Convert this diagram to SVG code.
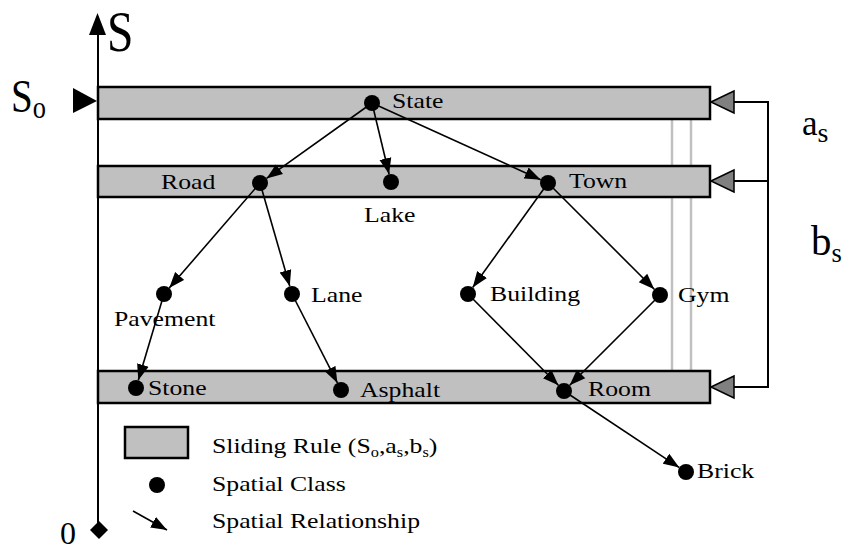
<svg xmlns="http://www.w3.org/2000/svg" width="845" height="552" viewBox="0 0 845 552">
  <style>
    .bar { fill: #c0c0c0; stroke: #000; stroke-width: 2.5; }
    .guide { stroke: #c0c0c0; stroke-width: 2.5; fill: none; }
    .dot { fill: #000; }
    .lbl { font-family: "Liberation Serif", "Times New Roman", serif; font-size: 22px; fill: #000; }
    .big { font-family: "Liberation Serif", "Times New Roman", serif; fill: #000; }
    .edge { stroke: #000; stroke-width: 1.6; fill: none; marker-end: url(#arr); }
    .bracket { stroke: #000; stroke-width: 2; fill: none; }
    .ptr { fill: #808080; stroke: #000; stroke-width: 1.5; }
  </style>
  <defs>
    <marker id="arr" markerUnits="userSpaceOnUse" markerWidth="17" markerHeight="13" refX="16" refY="6.5" orient="auto">
      <path d="M0,0.5 L16,6.5 L0,12.5 z" fill="#000"/>
    </marker>
  </defs>
  <rect width="845" height="552" fill="#fff"/>

  <!-- guide lines behind rules -->
  <g id="guides">
    <line class="guide" x1="672" y1="119" x2="672" y2="371"/>
    <line class="guide" x1="691" y1="119" x2="691" y2="371"/>
  </g>

  <!-- sliding rules -->
  <g id="rules">
    <rect id="rule1" class="bar" x="98" y="87" width="612" height="32"/>
    <rect id="rule2" class="bar" x="98" y="166" width="612" height="31"/>
    <rect id="rule3" class="bar" x="98" y="371" width="612" height="32"/>
  </g>

  <!-- axis -->
  <g id="axis">
    <line x1="98" y1="30" x2="98" y2="530" stroke="#000" stroke-width="2"/>
    <polygon points="97.5,13 106,35 89,35" fill="#000"/>
    <polygon points="99,521 108,530 99,539 90,530" fill="#000"/>
    <polygon points="73,88 97,101 73,113" fill="#000"/>
    <text class="big" font-size="58" transform="translate(107,51) scale(0.82,1)">S</text>
    <text class="big" font-size="46" transform="translate(11,112) scale(0.85,1)">S<tspan font-size="31" dy="6">o</tspan></text>
    <text class="big" font-size="32" x="60" y="544">0</text>
  </g>

  <!-- right bracket -->
  <g id="bracket">
    <polyline class="bracket" points="734,102 768,102 768,387 734,387"/>
    <line class="bracket" x1="734" y1="181" x2="768" y2="181"/>
    <polygon class="ptr" points="711,102 734,91 734,113"/>
    <polygon class="ptr" points="711,181 734,170 734,192"/>
    <polygon class="ptr" points="711,387 734,376 734,398"/>
    <text class="big" font-size="35" x="802" y="135">a<tspan font-size="28" dy="7">s</tspan></text>
    <text class="big" font-size="43" transform="translate(811,255) scale(0.95,1)">b<tspan font-size="28" dy="7">s</tspan></text>
  </g>

  <!-- connectors -->
  <g id="connectors">
    <line class="edge" x1="372" y1="103" x2="266.5" y2="178.4"/>
    <line class="edge" x1="372" y1="103" x2="389.1" y2="174.2"/>
    <line class="edge" x1="372" y1="103" x2="540.7" y2="179.7"/>
    <line class="edge" x1="260" y1="183" x2="169.2" y2="288"/>
    <line class="edge" x1="260" y1="183" x2="289.8" y2="286.3"/>
    <line class="edge" x1="548" y1="183" x2="472.7" y2="287.5"/>
    <line class="edge" x1="548" y1="183" x2="654.3" y2="289.3"/>
    <line class="edge" x1="164" y1="294" x2="138.3" y2="380.3"/>
    <line class="edge" x1="292" y1="294" x2="337.4" y2="382.9"/>
    <line class="edge" x1="468" y1="294" x2="558.4" y2="385.3"/>
    <line class="edge" x1="660" y1="295" x2="569.7" y2="385.3"/>
    <line class="edge" x1="564" y1="391" x2="679.3" y2="467.6"/>
  </g>

  <!-- nodes -->
  <g id="state"><circle class="dot" cx="372" cy="103" r="8"/><text class="lbl" transform="translate(392,108) scale(1.17,1)">State</text></g>
  <g id="road"><circle class="dot" cx="260" cy="183" r="8"/><text class="lbl" transform="translate(161,189) scale(1.17,1)">Road</text></g>
  <g id="lake"><circle class="dot" cx="391" cy="182" r="8"/><text class="lbl" transform="translate(364,222) scale(1.17,1)">Lake</text></g>
  <g id="town"><circle class="dot" cx="548" cy="183" r="8"/><text class="lbl" transform="translate(569,188) scale(1.17,1)">Town</text></g>
  <g id="pavement"><circle class="dot" cx="164" cy="294" r="8"/><text class="lbl" transform="translate(114,326) scale(1.17,1)">Pavement</text></g>
  <g id="lane"><circle class="dot" cx="292" cy="294" r="8"/><text class="lbl" transform="translate(311,302) scale(1.17,1)">Lane</text></g>
  <g id="building"><circle class="dot" cx="468" cy="294" r="8"/><text class="lbl" transform="translate(490,301) scale(1.17,1)">Building</text></g>
  <g id="gym"><circle class="dot" cx="660" cy="295" r="8"/><text class="lbl" transform="translate(678,302) scale(1.17,1)">Gym</text></g>
  <g id="stone"><circle class="dot" cx="136" cy="388" r="8"/><text class="lbl" transform="translate(148,395) scale(1.17,1)">Stone</text></g>
  <g id="asphalt"><circle class="dot" cx="341" cy="390" r="8"/><text class="lbl" transform="translate(360,397) scale(1.17,1)">Asphalt</text></g>
  <g id="room"><circle class="dot" cx="564" cy="391" r="8"/><text class="lbl" transform="translate(588,396) scale(1.17,1)">Room</text></g>
  <g id="brick"><circle class="dot" cx="686" cy="472" r="8"/><text class="lbl" transform="translate(697,478) scale(1.17,1)">Brick</text></g>

  <!-- legend -->
  <g id="legend">
    <rect class="bar" x="125" y="427" width="63" height="31"/>
    <text class="lbl" transform="translate(212,453) scale(1.17,1)">Sliding Rule (S<tspan font-size="14" dy="4">o</tspan><tspan dy="-4">,a</tspan><tspan font-size="14" dy="4">s</tspan><tspan dy="-4">,b</tspan><tspan font-size="14" dy="4">s</tspan><tspan dy="-4">)</tspan></text>
    <circle class="dot" cx="157" cy="485" r="8"/>
    <text class="lbl" transform="translate(212,491) scale(1.17,1)">Spatial Class</text>
    <line class="edge" x1="133" y1="511" x2="167" y2="530"/>
    <text class="lbl" transform="translate(212,528) scale(1.17,1)">Spatial Relationship</text>
  </g>
</svg>
